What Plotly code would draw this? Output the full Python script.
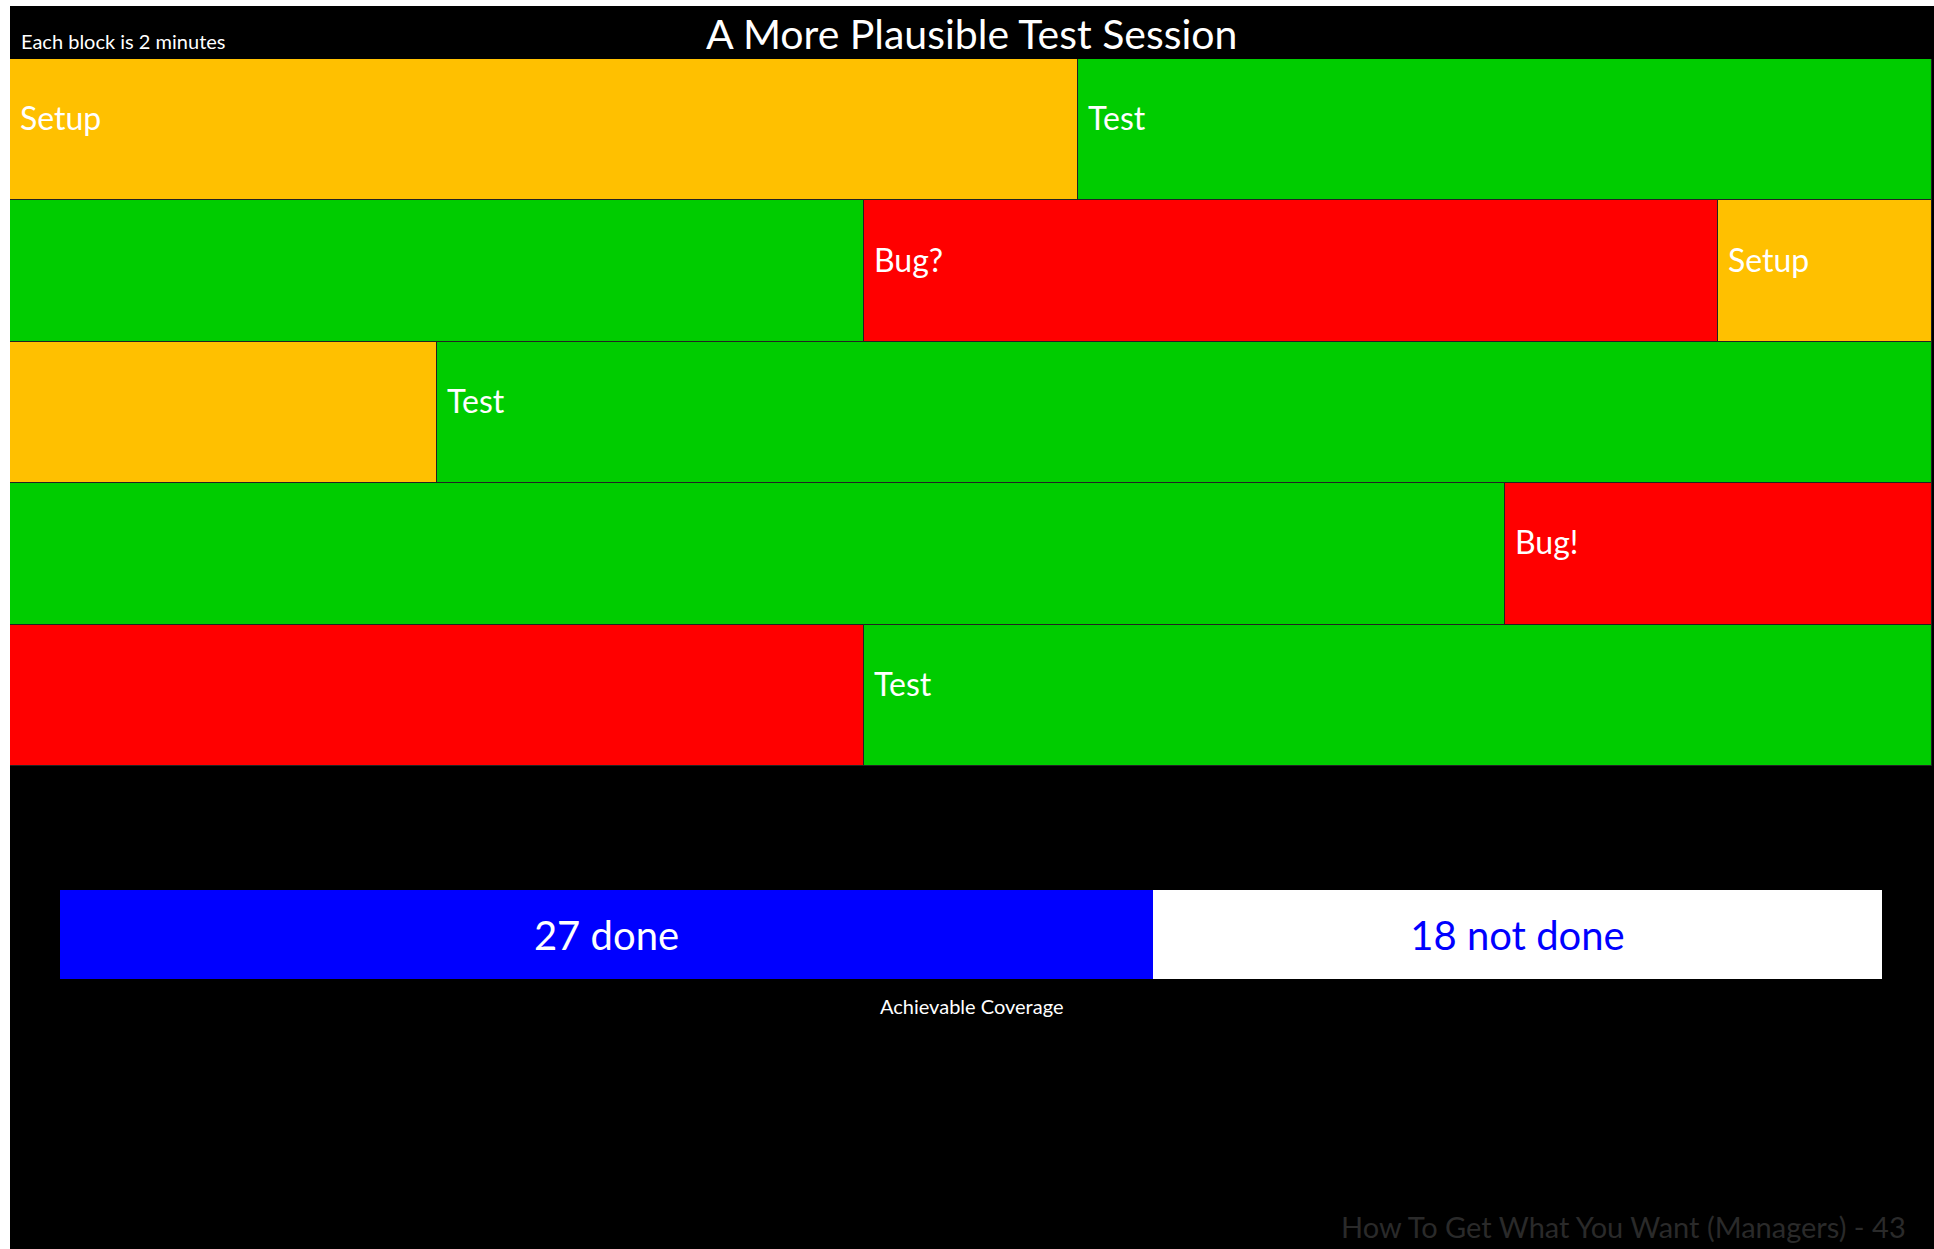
import plotly.graph_objects as go

# ---- data ----
rows = ["Row 1", "Row 2", "Row 3", "Row 4", "Row 5"]
seg_row = ["Row 1", "Row 1", "Row 2", "Row 2", "Row 2", "Row 3", "Row 3", "Row 4", "Row 4", "Row 5", "Row 5"]
seg_activity = ["Setup", "Test", "Test", "Bug", "Setup", "Setup", "Test", "Test", "Bug", "Bug", "Test"]
seg_blocks = [5, 4, 4, 4, 1, 2, 7, 7, 2, 4, 5]
seg_labels = ["Setup", "Test", "", "Bug?", "Setup", "", "Test", "", "Bug!", "", "Test"]

coverage_names = ["done", "not done"]
coverage_values = [27, 18]

activity_colors = {"Setup": "#FFC000", "Test": "#00CC00", "Bug": "#FF0000"}

W, H = 1934, 1249
FONT = "Lato, Carlito, Calibri, sans-serif"

# compute segment starts (cumulative within each row)
seg_base = []
running = {}
for r, b in zip(seg_row, seg_blocks):
    seg_base.append(running.get(r, 0))
    running[r] = running.get(r, 0) + b
total_blocks = max(running.values())

fig = go.Figure()

for act in ["Setup", "Test", "Bug"]:
    idx = [i for i, a in enumerate(seg_activity) if a == act]
    fig.add_trace(go.Bar(
        orientation="h",
        y=[seg_row[i] for i in idx],
        x=[seg_blocks[i] for i in idx],
        base=[seg_base[i] for i in idx],
        marker=dict(color=activity_colors[act], line=dict(color="#222222", width=1)),
        name=act, showlegend=False, hoverinfo="skip",
        xaxis="x", yaxis="y",
    ))

# coverage bar
cov_colors = ["#0000FF", "#FFFFFF"]
cov_text_colors = ["#FFFFFF", "#0000FF"]
cov_base = [0, coverage_values[0]]
for name, val, b, c, tc in zip(coverage_names, coverage_values, cov_base, cov_colors, cov_text_colors):
    fig.add_trace(go.Bar(
        orientation="h", y=["cov"], x=[val], base=[b],
        marker=dict(color=c, line=dict(width=0)),
        text=[f"{val} {name}"], textposition="inside", insidetextanchor="middle",
        textfont=dict(color=tc, size=40, family=FONT),
        showlegend=False, hoverinfo="skip", xaxis="x2", yaxis="y2",
    ))

annotations = []
for r, b, lab in zip(seg_row, seg_base, seg_labels):
    if lab:
        annotations.append(dict(
            x=b, y=r, xref="x", yref="y", text=lab, showarrow=False,
            xanchor="left", yanchor="middle", xshift=8, yshift=12,
            font=dict(color="#FFFFFF", size=32, family=FONT),
        ))

annotations += [
    dict(x=971 / W, y=1 - 33 / H, xref="paper", yref="paper", text="A More Plausible Test Session",
         showarrow=False, xanchor="center", yanchor="middle",
         font=dict(color="#FFFFFF", size=41, family=FONT)),
    dict(x=19 / W, y=1 - 41 / H, xref="paper", yref="paper", text="Each block is 2 minutes",
         showarrow=False, xanchor="left", yanchor="middle",
         font=dict(color="#FFFFFF", size=20, family=FONT)),
    dict(x=971 / W, y=1 - 1006 / H, xref="paper", yref="paper", text="Achievable Coverage",
         showarrow=False, xanchor="center", yanchor="middle",
         font=dict(color="#FFFFFF", size=20, family=FONT)),
    dict(x=1908 / W, y=1 - 1226 / H, xref="paper", yref="paper",
         text="How To Get What You Want (Managers) - 43",
         showarrow=False, xanchor="right", yanchor="middle",
         font=dict(color="#2a2a2a", size=29, family=FONT)),
]

fig.update_layout(
    width=W, height=H,
    margin=dict(l=0, r=0, t=0, b=0),
    paper_bgcolor="#FFFFFF",
    plot_bgcolor="rgba(0,0,0,0)",
    barmode="overlay",
    bargap=0,
    annotations=annotations,
    shapes=[dict(type="rect", xref="paper", yref="paper", x0=10 / W, x1=1, y0=0, y1=1 - 6 / H,
                 fillcolor="#000000", line=dict(width=0), layer="below")],
    xaxis=dict(domain=[10 / W, 1932 / W], range=[0, total_blocks], visible=False, fixedrange=True),
    yaxis=dict(domain=[1 - 766 / H, 1 - 59 / H], categoryorder="array", categoryarray=rows,
               autorange="reversed", visible=False, fixedrange=True),
    xaxis2=dict(domain=[60 / W, 1882 / W], range=[0, sum(coverage_values)], visible=False,
                anchor="y2", fixedrange=True),
    yaxis2=dict(domain=[1 - 979 / H, 1 - 890 / H], visible=False, anchor="x2", fixedrange=True),
    uniformtext=dict(mode=False),
)

fig.write_html("out.html")
